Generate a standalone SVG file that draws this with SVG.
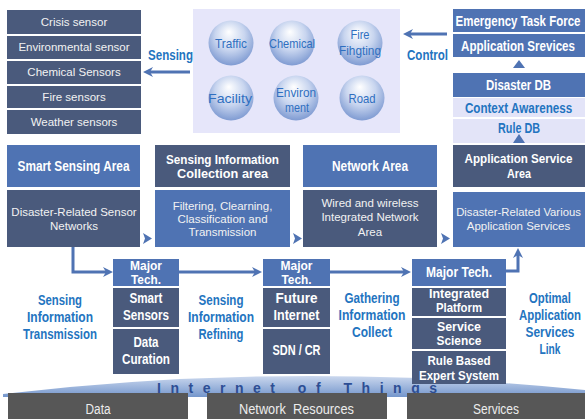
<svg xmlns="http://www.w3.org/2000/svg" width="585" height="419" viewBox="0 0 585 419">
<style>
.b{font-family:"Liberation Sans",Arial,sans-serif;font-weight:bold;font-size:14px;text-anchor:middle}
.s{font-size:13px}
.r{font-family:"Liberation Sans",Arial,sans-serif;font-size:11.5px;text-anchor:middle;fill:#f2f2f2}
.c{font-family:"Liberation Sans",Arial,sans-serif;font-size:13px;text-anchor:middle;fill:#2f6fc0}
.g{font-family:"Liberation Sans",Arial,sans-serif;font-size:14px;text-anchor:middle;fill:#ececec}
.w{fill:#ffffff}
.bl{fill:#2374c0}
.mb{fill:#4f73b3}
.sl{fill:#4a5a7c}
.lv{fill:#e3e4f8}
.gr{fill:#575757}
.ln{fill:none;stroke:#4f73b3;stroke-width:3}
.tri{fill:#4f73b3}
</style>
<defs>
<radialGradient id="ball" cx="0.5" cy="0.4" r="0.6" fx="0.45" fy="0.25">
<stop offset="0" stop-color="#ffffff"/>
<stop offset="0.55" stop-color="#c8d5ef"/>
<stop offset="1" stop-color="#7f9bd2"/>
</radialGradient>
<linearGradient id="wedge" x1="0" y1="0" x2="0" y2="1">
<stop offset="0" stop-color="#cbd8ee"/>
<stop offset="1" stop-color="#7496cc"/>
</linearGradient>
<marker id="ah" markerUnits="userSpaceOnUse" markerWidth="11" markerHeight="11" refX="3" refY="5" orient="auto">
<path d="M0,0 L10,5 L0,10 L3,5 Z" fill="#4f73b3"/>
</marker>
</defs>
<rect width="585" height="419" fill="#ffffff"/>

<g id="iot-band">
<path d="M3,394 Q290,360 585,390 L585,397 L3,397 Z" fill="url(#wedge)"/>
<text x="157" y="393" font-family="Liberation Sans, Arial, sans-serif" font-size="14" font-weight="bold" fill="#2d4e94" textLength="280" lengthAdjust="spacing">Internet of Things</text>
</g>

<g id="sensor-list">
<rect x="7" y="10" width="134" height="24" class="sl"/>
<rect x="7" y="36" width="134" height="23" class="sl"/>
<rect x="7" y="61" width="134" height="23" class="sl"/>
<rect x="7" y="86" width="134" height="22" class="sl"/>
<rect x="7" y="110" width="134" height="24" class="sl"/>
<text x="74" y="26" class="r">Crisis sensor</text>
<text x="74" y="51" class="r">Environmental sensor</text>
<text x="74" y="76" class="r">Chemical Sensors</text>
<text x="74" y="101" class="r">Fire sensors</text>
<text x="74" y="126" class="r">Weather sensors</text>
</g>

<g id="fields">
<rect x="193" y="9" width="207" height="124" fill="#e6e6fa"/>
<circle cx="231" cy="43" r="22.5" fill="url(#ball)"/>
<circle cx="292" cy="43" r="22.5" fill="url(#ball)"/>
<circle cx="360" cy="43" r="22.5" fill="url(#ball)"/>
<circle cx="231" cy="98" r="22.5" fill="url(#ball)"/>
<circle cx="296" cy="98" r="22.5" fill="url(#ball)"/>
<circle cx="362" cy="98" r="22.5" fill="url(#ball)"/>
<text x="231" y="48" class="c" textLength="32" lengthAdjust="spacingAndGlyphs">Traffic</text>
<text x="292" y="48" class="c" textLength="46" lengthAdjust="spacingAndGlyphs">Chemical</text>
<text x="360" y="39" class="c" textLength="19" lengthAdjust="spacingAndGlyphs">Fire</text>
<text x="360" y="55" class="c" textLength="42" lengthAdjust="spacingAndGlyphs">Fihgting</text>
<text x="230" y="103" class="c" textLength="44" lengthAdjust="spacingAndGlyphs">Facility</text>
<text x="296" y="97" class="c" textLength="40" lengthAdjust="spacingAndGlyphs">Environ</text>
<text x="297" y="112" class="c" textLength="24" lengthAdjust="spacingAndGlyphs">ment</text>
<text x="362" y="103" class="c" textLength="27" lengthAdjust="spacingAndGlyphs">Road</text>
</g>

<g id="label-sensing">
<text x="170.5" y="60" class="b bl" textLength="45" lengthAdjust="spacingAndGlyphs">Sensing</text>
</g>
<g id="label-control">
<text x="427.5" y="60" class="b bl" textLength="41" lengthAdjust="spacingAndGlyphs">Control</text>
</g>

<g id="task-force">
<rect x="453" y="9" width="132" height="23" class="mb"/>
<rect x="453" y="34" width="132" height="23" class="mb"/>
<text transform="translate(518,25.5) scale(0.822,1)" class="b w">Emergency Task Force</text>
<text transform="translate(518,50.5) scale(0.828,1)" class="b w">Application Srevices</text>
</g>

<g id="db-stack">
<rect x="453" y="73" width="132" height="24" class="mb"/>
<rect x="453" y="98" width="132" height="19" class="lv"/>
<rect x="453" y="119" width="132" height="24" class="lv"/>
<text x="518.5" y="90" class="b w" textLength="65" lengthAdjust="spacingAndGlyphs">Disaster DB</text>
<text transform="translate(518.5,112.5) scale(0.831,1)" class="b bl">Context Awareness</text>
<text x="519" y="133" class="b bl" textLength="42" lengthAdjust="spacingAndGlyphs">Rule DB</text>
</g>

<g id="smart-sensing-area">
<rect x="7" y="145" width="133" height="42" class="mb"/>
<rect x="7" y="190" width="133" height="57" class="sl"/>
<text x="73.5" y="171" class="b w" textLength="112" lengthAdjust="spacingAndGlyphs">Smart Sensing Area</text>
<text x="74" y="216" class="r">Disaster-Related Sensor</text>
<text x="74" y="230" class="r">Networks</text>
</g>

<g id="collection-area">
<rect x="155" y="145" width="135" height="42" class="sl"/>
<rect x="155" y="190" width="135" height="57" class="mb"/>
<text x="222.5" y="164" class="b s w" textLength="113" lengthAdjust="spacingAndGlyphs">Sensing Information</text>
<text x="222.5" y="178" class="b s w" textLength="91" lengthAdjust="spacingAndGlyphs">Collection area</text>
<text x="222.5" y="210" class="r">Filtering, Clearning,</text>
<text x="222.5" y="223" class="r">Classification and</text>
<text x="222.5" y="236" class="r">Transmission</text>
</g>

<g id="network-area">
<rect x="303" y="145" width="134" height="42" class="mb"/>
<rect x="303" y="190" width="134" height="57" class="sl"/>
<text x="370" y="171" class="b w" textLength="76" lengthAdjust="spacingAndGlyphs">Network Area</text>
<text x="370" y="207" class="r">Wired and wireless</text>
<text x="370" y="221" class="r">Integrated Network</text>
<text x="370" y="236" class="r">Area</text>
</g>

<g id="application-area">
<rect x="453" y="145" width="132" height="42" class="sl"/>
<rect x="453" y="192" width="132" height="55" class="mb"/>
<text transform="translate(518.5,163) scale(0.895,1)" class="b s w">Application Service</text>
<text x="519" y="178" class="b s w" textLength="24" lengthAdjust="spacingAndGlyphs">Area</text>
<text x="518.5" y="216" class="r" style="font-size:11.3px">Disaster-Related Various</text>
<text x="518.5" y="230" class="r">Application Services</text>
</g>

<g id="tech-1">
<rect x="113" y="259" width="66" height="27" class="mb"/>
<rect x="113" y="288" width="66" height="39" class="sl"/>
<rect x="113" y="329" width="66" height="45" class="sl"/>
<text x="146" y="270" class="b s w" textLength="32" lengthAdjust="spacingAndGlyphs">Major</text>
<text x="146" y="284" class="b s w" textLength="30" lengthAdjust="spacingAndGlyphs">Tech.</text>
<text x="146" y="303" class="b w" textLength="33" lengthAdjust="spacingAndGlyphs">Smart</text>
<text x="146" y="320" class="b w" textLength="46" lengthAdjust="spacingAndGlyphs">Sensors</text>
<text x="146" y="347" class="b w" textLength="25" lengthAdjust="spacingAndGlyphs">Data</text>
<text x="146" y="364" class="b w" textLength="48" lengthAdjust="spacingAndGlyphs">Curation</text>
</g>

<g id="tech-2">
<rect x="263" y="259" width="67" height="27" class="mb"/>
<rect x="263" y="288" width="67" height="39" class="sl"/>
<rect x="263" y="329" width="67" height="45" class="sl"/>
<text x="296.5" y="270" class="b s w" textLength="32" lengthAdjust="spacingAndGlyphs">Major</text>
<text x="296.5" y="284" class="b s w" textLength="30" lengthAdjust="spacingAndGlyphs">Tech.</text>
<text x="296.5" y="303" class="b w" textLength="42" lengthAdjust="spacingAndGlyphs">Future</text>
<text x="296.5" y="320" class="b w" textLength="46" lengthAdjust="spacingAndGlyphs">Internet</text>
<text x="296.5" y="355" class="b w" textLength="48" lengthAdjust="spacingAndGlyphs">SDN / CR</text>
</g>

<g id="tech-3">
<rect x="412" y="259" width="94" height="27" class="mb"/>
<rect x="412" y="288" width="94" height="28" class="sl"/>
<rect x="412" y="318" width="94" height="31" class="sl"/>
<rect x="412" y="351" width="94" height="33" class="sl"/>
<text x="459" y="277" class="b w" textLength="66" lengthAdjust="spacingAndGlyphs">Major Tech.</text>
<text x="459" y="298" class="b s w" textLength="60" lengthAdjust="spacingAndGlyphs">Integrated</text>
<text x="459" y="312" class="b s w" textLength="46" lengthAdjust="spacingAndGlyphs">Platform</text>
<text x="459" y="331" class="b s w" textLength="44" lengthAdjust="spacingAndGlyphs">Service</text>
<text x="459" y="345" class="b s w" textLength="45" lengthAdjust="spacingAndGlyphs">Science</text>
<text x="459" y="365" class="b s w" textLength="63" lengthAdjust="spacingAndGlyphs">Rule Based</text>
<text x="459" y="380" class="b s w" textLength="80" lengthAdjust="spacingAndGlyphs">Expert System</text>
</g>

<g id="label-transmission">
<text x="60" y="305" class="b bl" textLength="44" lengthAdjust="spacingAndGlyphs">Sensing</text>
<text x="60" y="322" class="b bl" textLength="66" lengthAdjust="spacingAndGlyphs">Information</text>
<text x="60" y="339" class="b bl" textLength="74" lengthAdjust="spacingAndGlyphs">Transmission</text>
</g>
<g id="label-refining">
<text x="221" y="305" class="b bl" textLength="45" lengthAdjust="spacingAndGlyphs">Sensing</text>
<text x="221" y="322" class="b bl" textLength="66" lengthAdjust="spacingAndGlyphs">Information</text>
<text x="221" y="339" class="b bl" textLength="45" lengthAdjust="spacingAndGlyphs">Refining</text>
</g>
<g id="label-gathering">
<text x="372" y="303" class="b bl" textLength="55" lengthAdjust="spacingAndGlyphs">Gathering</text>
<text x="372" y="320" class="b bl" textLength="67" lengthAdjust="spacingAndGlyphs">Information</text>
<text x="372" y="337" class="b bl" textLength="40" lengthAdjust="spacingAndGlyphs">Collect</text>
</g>
<g id="label-link">
<text x="550" y="303" class="b bl" textLength="42" lengthAdjust="spacingAndGlyphs">Optimal</text>
<text transform="translate(550,320) scale(0.815,1)" class="b bl">Application</text>
<text x="550" y="337" class="b bl" textLength="49" lengthAdjust="spacingAndGlyphs">Services</text>
<text x="550" y="354" class="b bl" textLength="21" lengthAdjust="spacingAndGlyphs">Link</text>
</g>

<g id="layer-data">
<rect x="8" y="393" width="180" height="30" class="gr"/>
<text x="98" y="414" class="g" textLength="25" lengthAdjust="spacingAndGlyphs">Data</text>
</g>
<g id="layer-network">
<rect x="207" y="393" width="180" height="30" class="gr"/>
<text x="296.5" y="414" class="g" style="white-space:pre" textLength="115" lengthAdjust="spacingAndGlyphs">Network  Resources</text>
</g>
<g id="layer-services">
<rect x="407" y="393" width="178" height="30" class="gr"/>
<text x="496" y="414" class="g" textLength="46" lengthAdjust="spacingAndGlyphs">Services</text>
</g>

<g id="connectors">
<line x1="190" y1="72" x2="150" y2="72" class="ln" marker-end="url(#ah)"/>
<line x1="447" y1="34" x2="410" y2="34" class="ln" marker-end="url(#ah)"/>
<polygon points="513,68 519,60 525,68" class="tri"/>
<polygon points="513,143 519,134 525,143" class="tri"/>
<polygon points="143,233 152,238.5 143,244 145,238.5" class="tri"/>
<polygon points="293,233 302,238.5 293,244 295,238.5" class="tri"/>
<polygon points="441,233 450,238.5 441,244 443,238.5" class="tri"/>
<polyline points="73,247 73,272 106,272" class="ln" marker-end="url(#ah)"/>
<line x1="179" y1="272" x2="255" y2="272" class="ln" marker-end="url(#ah)"/>
<line x1="330" y1="272" x2="404" y2="272" class="ln" marker-end="url(#ah)"/>
<polyline points="506,271 518,271 518,255" class="ln" marker-end="url(#ah)"/>
</g>
</svg>
